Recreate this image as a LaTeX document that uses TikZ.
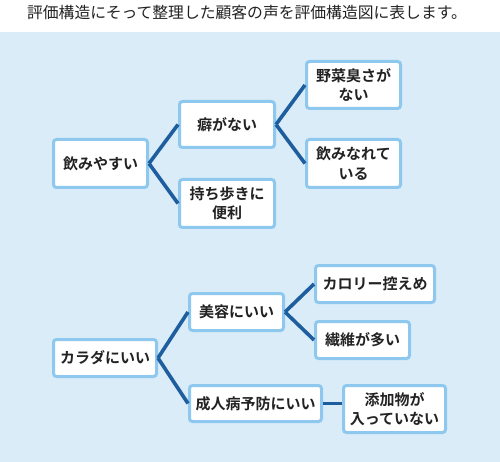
\documentclass[tikz,border=0pt]{standalone}
\usepackage{fontspec}
\setmainfont{Noto Sans CJK JP}
\newfontfamily\jpb{Noto Sans CJK JP Bold}
\definecolor{bgblue}{HTML}{D9ECF8}
\definecolor{boxborder}{HTML}{8EC8EE}
\definecolor{linkblue}{HTML}{1F5E9E}
\definecolor{titlegray}{HTML}{222222}
\tikzset{
  box/.style={draw=boxborder, line width=3pt, fill=white, rounded corners=3pt,
    inner sep=0pt, align=center, font=\fontsize{15}{19.5}\selectfont\jpb, text=titlegray},
  link/.style={draw=linkblue, line width=3.6pt},
}
\begin{document}
\begin{tikzpicture}[x=1pt,y=-1pt]
\useasboundingbox (0,0) rectangle (500,462);
\fill[bgblue] (0,32) rectangle (500,462);
\node[font=\fontsize{15.8}{18}\selectfont, text=titlegray] (title) at (247,13) {評価構造にそって整理した顧客の声を評価構造図に表します。};

\node[box, minimum width=94pt, minimum height=48pt] (A) at (100.5,163.5) {飲みやすい};
\node[box, minimum width=95pt, minimum height=46pt] (B) at (227,124.5) {癖がない};
\node[box, minimum width=95pt, minimum height=48pt] (C) at (227,203.5) {持ち歩きに\\便利};
\node[box, minimum width=94pt, minimum height=47pt] (D) at (353.5,85) {野菜臭さが\\ない};
\node[box, minimum width=94pt, minimum height=48pt] (E) at (353.5,163.5) {飲みなれて\\いる};

\node[box, minimum width=103pt, minimum height=37pt] (F) at (105,358) {カラダにいい};
\node[box, minimum width=94pt, minimum height=37pt] (G) at (236.5,312) {美容にいい};
\node[box, minimum width=132pt, minimum height=36pt] (H) at (255.5,403.5) {成人病予防にいい};
\node[box, minimum width=119pt, minimum height=37pt] (I) at (375,284) {カロリー控えめ};
\node[box, minimum width=94pt, minimum height=37pt] (J) at (362.5,340) {繊維が多い};
\node[box, minimum width=102pt, minimum height=47pt] (K) at (394.5,409) {添加物が\\入っていない};

\draw[link] (A.east) -- (B.west);
\draw[link] (A.east) -- (C.west);
\draw[link] (B.east) -- (D.west);
\draw[link] (B.east) -- (E.west);
\draw[link] (F.east) -- (G.west);
\draw[link] (F.east) -- (H.west);
\draw[link] (G.east) -- (I.west);
\draw[link] (G.east) -- (J.west);
\draw[link] (H.east) -- (H.east -| K.west);
\end{tikzpicture}
\end{document}
